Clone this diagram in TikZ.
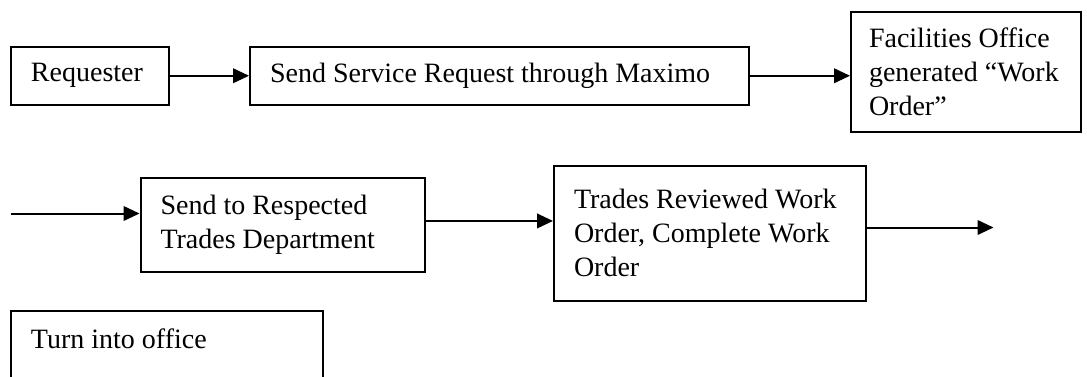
\documentclass[tikz,border=0pt]{standalone}
\usepackage{fontspec}
\setmainfont{Liberation Serif}
\usetikzlibrary{arrows.meta}

\tikzset{
  box/.style={draw, line width=1pt, anchor=north west, align=flush left, inner xsep=10pt, inner ysep=0pt,
    font=\fontsize{14}{17}\selectfont},
  flow/.style={line width=1pt, -{Triangle[length=8pt,width=7.3pt]}}
}

\begin{document}
\begin{tikzpicture}[x=0.5pt,y=0.5pt,yscale=-1,xscale=1]
\clip (0,0) rectangle (1087,376);

%Shape: Rectangle
\node[box, text width=59pt, minimum height=29.25pt] (req) at (10,45.5) {Requester};
\node[box, text width=229.5pt, minimum height=29.25pt] (send) at (249,45.5) {Send Service Request through Maximo};
\node[box, inner xsep=9pt, text width=97pt, minimum height=60.25pt] (fac) at (850,10.5) {Facilities Office\\generated ``Work\\Order''};

\node[box, text width=122.25pt, minimum height=46.75pt] (trades) at (139.5,177) {Send to Respected\\Trades Department};
\node[box, text width=135.75pt, minimum height=67.5pt] (review) at (553,164.5) {Trades Reviewed Work\\Order, Complete Work\\Order};

\node[box, text width=136pt, text depth=30pt, inner ysep=9pt] (office) at (10,309.5) {Turn into office};

% free ends
\coordinate (in) at (10.5,213.5);
\coordinate (out) at (993.5,227.5);

%Shape: Arrows
\draw[flow] (req.east) -- (send.west);
\draw[flow] (send.east) -- (send.east -| fac.west);
\draw[flow] (in) -- (in -| trades.west);
\draw[flow] ([yshift=-1.9pt]trades.east) -- ([yshift=-1.9pt]trades.east -| review.west);
\draw[flow] (out -| review.east) -- (out);

\end{tikzpicture}
\end{document}
